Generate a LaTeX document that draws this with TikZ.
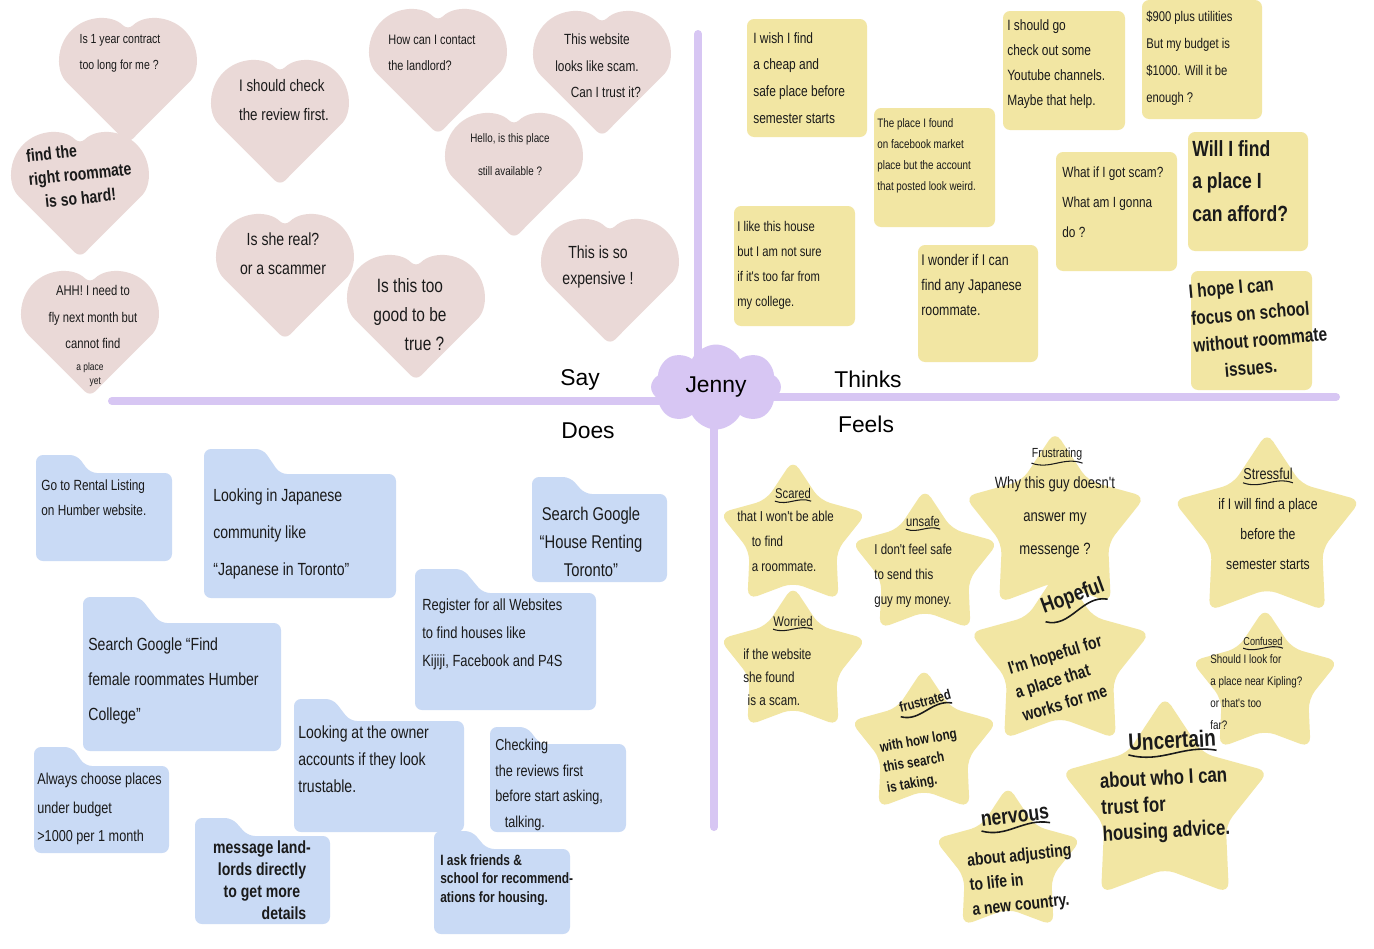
\documentclass[tikz,border=0pt]{standalone}
\usepackage{fontspec}
\setmainfont{Liberation Sans}
\newfontfamily\handfont[FakeStretch=0.8]{Liberation Sans}
\usepackage{xcolor}
\usetikzlibrary{shapes.geometric,shapes.symbols}

\definecolor{heartpink}{HTML}{EAD9D7}
\definecolor{thinkyellow}{HTML}{F2E6A3}
\definecolor{doesblue}{HTML}{C9DAF5}
\definecolor{hublilac}{HTML}{D7C6F3}
\definecolor{ink}{HTML}{1A1A1A}

\newcommand{\handtext}[2]{\handfont\fontsize{#1}{#2}\selectfont}
\newcommand{\markertext}[2]{\handfont\bfseries\fontsize{#1}{#2}\selectfont}

\begin{document}
\begin{tikzpicture}[
  x=0.02cm, y=0.02cm,
  quadline/.style={line width=0.16cm, hublilac, line cap=round},
  hub/.style={cloud, cloud puffs=8, cloud puff arc=125, cloud ignores aspect, fill=hublilac,
              minimum width=2.6cm, minimum height=1.7cm, inner sep=0pt,
              font=\fontsize{13}{15}\selectfont},
  quad/.style={font=\fontsize{13}{15}\selectfont},
  heart/.pic={\fill[heartpink, rounded corners=4pt] (-56.6,-5.9)
              arc[start angle=225, end angle=45, radius=40]
              arc[start angle=135, end angle=-45, radius=40] -- (0,-62.5) -- cycle;},
  sticky/.style={fill=thinkyellow, rounded corners=4pt},
  folder/.style={fill=doesblue, rounded corners=4pt},
  feelstar/.style={star, star points=5, star point ratio=1.7, fill=thinkyellow,
                   rounded corners=6pt, inner sep=0pt},
  txt/.style={align=left, inner sep=0pt, text=ink},
  ttl/.style={inner sep=0pt, text=ink},
  squig/.style={ink, line width=0.6pt}
]
\fill[white] (0,0) rectangle (1374,-944);

% Quadrant lines and persona
\coordinate (hubc)     at (716,-383);
\coordinate (sayend)   at (112,-397);
\coordinate (thinkend) at (1336,-393);
\coordinate (topend)   at (698,-30);
\coordinate (botend)   at (714,-823);
\draw[quadline] (sayend) -- (sayend -| hubc);
\draw[quadline] (thinkend) -- (thinkend -| hubc);
\draw[quadline] (topend) -- (topend |- hubc);
\draw[quadline] (botend) -- (botend |- hubc);
\node[hub] (jenny) at (hubc) {Jenny};

\node[quad] (say)    at (580,-376) {Say};
\node[quad] (thinks) at (868,-375) {Thinks};
\node[quad] (does)   at (588,-427) {Does};
\node[quad] (feels)  at (866,-420) {Feels};

% Say: hearts
\pic at (128,-77)  {heart};
\pic at (280,-119) {heart};
\pic at (438,-68)  {heart};
\pic at (602,-70)  {heart};
\pic at (80,-191)  {heart};
\pic at (514,-172) {heart};
\pic at (285,-273) {heart};
\pic at (416,-314) {heart};
\pic at (610,-278) {heart};
\pic at (90,-330)  {heart};

\node[txt, font=\handtext{7.5}{14.7}] (h1) at (120,-49) {Is 1 year contract\\too long for me ?};
\node[txt, font=\handtext{9.5}{16}] (h2) at (284,-96) {I should check\\the review first.};
\node[txt, anchor=west, font=\handtext{7.8}{14.7}] (h3) at (388,-49) {How can I contact\\the landlord?};
\node[txt, align=center, font=\handtext{8.4}{15}] (h4) at (597,-62) {This website\\looks like scam.\\\hspace*{1.2em}Can I trust it?};
\node[txt, rotate=6, font=\markertext{10}{13.5}] (h5) at (80,-170) {find the\\right roommate\\\hspace*{0.8em}is so hard!};
\node[txt, align=center, font=\handtext{7}{18.7}] (h6) at (510,-151) {Hello, is this place\\still available ?};
\node[txt, align=center, font=\handtext{10}{16.4}] (h7) at (283,-250) {Is she real?\\or a scammer};
\node[txt, align=center, font=\handtext{11}{16.5}] (h8) at (410,-311) {Is this too\\good to be\\\hspace*{1.5em}true ?};
\node[txt, align=center, font=\handtext{10}{15.3}] (h9) at (598,-263) {This is so\\expensive !};
\node[txt, align=center, font=\handtext{8}{15}] (h10) at (93,-313) {AHH! I need to\\fly next month but\\cannot find};
\node[txt, align=center, font=\handtext{6}{8}] (h10b) at (90,-371) {a place\\\hspace*{1em}yet};

% Thinks: sticky notes
\fill[sticky] (747,-15) rectangle (867,-133);
\fill[sticky] (874,-104) rectangle (995,-223);
\fill[sticky] (734,-202) rectangle (855,-322);
\fill[sticky] (918,-241) rectangle (1038,-358);
\fill[sticky] (1003,-7) rectangle (1125,-126);
\fill[sticky] (1142,4) rectangle (1262,-115);
\fill[sticky] (1056,-148) rectangle (1177,-267);
\fill[sticky] (1188,-128) rectangle (1308,-247);
\fill[sticky] (1191,-267) rectangle (1312,-386);

\node[txt, anchor=west, font=\handtext{8.5}{15.3}] (t1) at (753,-74) {I wish I find\\a cheap and\\safe place before\\semester starts};
\node[txt, anchor=west, font=\handtext{7}{12}] (t2) at (877,-152) {The place I found\\on facebook market\\place but the account\\that posted look weird.};
\node[txt, anchor=west, font=\handtext{8}{14.2}] (t3) at (737,-261) {I like this house\\but I am not sure\\if it's too far from\\my college.};
\node[txt, anchor=west, font=\handtext{8.8}{14.2}] (t4) at (921,-281) {I wonder if I can\\find any Japanese\\roommate.};
\node[txt, anchor=west, font=\handtext{8.5}{14.2}] (t5) at (1007,-60) {I should go\\check out some\\Youtube channels.\\Maybe that help.};
\node[txt, anchor=west, font=\handtext{8}{15.3}] (t6) at (1146,-54) {\$900 plus utilities\\But my budget is\\\$1000. Will it be\\enough ?};
\node[txt, anchor=west, font=\handtext{8.4}{17}] (t7) at (1062,-198) {What if I got scam?\\What am I gonna\\do ?};
\node[txt, anchor=west, font=\markertext{12.5}{18.7}] (t8) at (1192,-177) {Will I find\\a place I\\can afford?};
\node[txt, anchor=west, rotate=5, font=\markertext{11}{15.5}] (t9) at (1192,-328) {I hope I can\\focus on school\\without roommate\\\hspace*{1.5em}issues.};

% Does: folders
\fill[folder] (36,-469)  |- ++(41,18) -- ++(13,-18) -| (172,-557) -- (36,-557) -- cycle;
\fill[folder] (204,-470) |- ++(59,25) -- ++(17,-25) -| (396,-594) -- (204,-594) -- cycle;
\fill[folder] (83,-619)  |- ++(57,26) -- ++(20,-26) -| (281,-747) -- (83,-747) -- cycle;
\fill[folder] (34,-762)  |- ++(38,19) -- ++(13,-19) -| (169,-849) -- (34,-849) -- cycle;
\fill[folder] (195,-832) |- ++(37,18) -- ++(16,-18) -| (330,-920) -- (195,-920) -- cycle;
\fill[folder] (294,-717) |- ++(39,22) -- ++(17,-22) -| (464,-828) -- (294,-828) -- cycle;
\fill[folder] (532,-490) |- ++(38,17) -- ++(15,-17) -| (667,-578) -- (532,-578) -- cycle;
\fill[folder] (415,-589) |- ++(48,24) -- ++(20,-24) -| (596,-706) -- (415,-706) -- cycle;
\fill[folder] (490,-740) |- ++(37,17) -- ++(13,-17) -| (626,-828) -- (490,-828) -- cycle;
\fill[folder] (434,-845) |- ++(38,18) -- ++(15,-18) -| (570,-930) -- (434,-930) -- cycle;

\node[txt, anchor=west, font=\handtext{8.4}{14.2}] (d1) at (41,-494) {Go to Rental Listing\\on Humber website.};
\node[txt, anchor=west, font=\handtext{10}{21}] (d2) at (213,-530) {Looking in Japanese\\community like\\“Japanese in Toronto”};
\node[txt, anchor=west, font=\handtext{10}{20}] (d3) at (88,-677) {Search Google “Find\\female roommates Humber\\College”};
\node[txt, anchor=west, font=\handtext{9}{16}] (d4) at (37,-805) {Always choose places\\under budget\\>1000 per 1 month};
\node[txt, align=center, font=\markertext{10}{12.5}] (d5) at (262,-876) {message land-\\lords directly\\to get more\\\hspace*{2.5em}details};
\node[txt, anchor=west, font=\handtext{10}{15.3}] (d6) at (298,-755) {Looking at the owner\\accounts if they look\\trustable.};
\node[txt, align=center, font=\handtext{10.5}{16}] (d7) at (591,-538) {Search Google\\“House Renting\\Toronto”};
\node[txt, anchor=west, font=\handtext{9.2}{15.9}] (d8) at (422,-630) {Register for all Websites\\to find houses like\\Kijiji, Facebook and P4S};
\node[txt, anchor=west, font=\handtext{9}{14.5}] (d9) at (495,-781) {Checking\\the reviews first\\before start asking,\\\hspace*{0.6em}talking.};
\node[txt, anchor=west, font=\markertext{8.5}{10.5}] (d10) at (440,-876) {I ask friends \&\\school for recommend-\\ations for housing.};

% Feels: stars
\node[feelstar, minimum size=3.1cm]  (s1)  at (793,-533)  {};
\node[feelstar, minimum size=3.1cm]  (s2)  at (925,-562)  {};
\node[feelstar, minimum size=3.1cm]  (s3)  at (793,-659)  {};
\node[feelstar, minimum size=3.8cm]  (s4)  at (1055,-522) {};
\node[feelstar, minimum size=3.95cm] (s5)  at (1267,-527) {};
\node[feelstar, minimum size=3.8cm]  (s6)  at (1060,-658) {};
\node[feelstar, minimum size=3.1cm]  (s7)  at (1265,-681) {};
\node[feelstar, minimum size=3.1cm]  (s8)  at (924,-741)  {};
\node[feelstar, minimum size=3.1cm]  (s9)  at (1008,-859) {};
\node[feelstar, minimum size=4.35cm] (s10) at (1165,-801) {};

\node[ttl, font=\handtext{8}{9}] (s1ttl) at (793,-489) {Scared};
\node[txt, anchor=west, font=\handtext{8.2}{14.2}] (s1txt) at (737,-537) {that I won't be able\\\hspace*{1em}to find\\\hspace*{1em}a roommate.};
\node[ttl, font=\handtext{8}{9}] (s2ttl) at (923,-517) {unsafe};
\node[txt, anchor=west, font=\handtext{8.2}{14.2}] (s2txt) at (874,-572) {I don't feel safe\\to send this\\guy my money.};
\node[ttl, font=\handtext{8}{9}] (s3ttl) at (793,-617) {Worried};
\node[txt, anchor=west, font=\handtext{8.3}{13}] (s3txt) at (743,-673) {if the website\\she found\\\hspace*{0.3em}is a scam.};
\node[ttl, font=\handtext{7.5}{9}] (s4ttl) at (1057,-450) {Frustrating};
\node[txt, align=center, font=\handtext{9.3}{18.7}] (s4txt) at (1055,-513) {Why this guy doesn't\\answer my\\messenge ?};
\node[ttl, font=\handtext{9}{10}] (s5ttl) at (1268,-470) {Stressful};
\node[txt, align=center, font=\handtext{8.7}{17}] (s5txt) at (1268,-530) {if I will find a place\\before the\\semester starts};
\node[ttl, rotate=20, font=\markertext{12.5}{14}] (s6ttl) at (1073,-593) {Hopeful};
\node[txt, rotate=17, font=\markertext{10}{14}] (s6txt) at (1062,-674) {I'm hopeful for\\a place that\\works for me};
\node[ttl, font=\handtext{6.5}{7}] (s7ttl) at (1263,-637) {Confused};
\node[txt, anchor=west, font=\handtext{7}{12.5}] (s7txt) at (1210,-688) {Should I look for\\a place near Kipling?\\or that's too\\far?};
\node[ttl, rotate=15, font=\markertext{8}{9}] (s8ttl) at (925,-697) {frustrated};
\node[txt, rotate=10, font=\markertext{8.3}{11.8}] (s8txt) at (922,-758) {with how long\\this search\\is taking.};
\node[ttl, rotate=7, font=\markertext{12.5}{14}] (s9ttl) at (1015,-813) {nervous};
\node[txt, rotate=6, font=\markertext{10}{14}] (s9txt) at (1022,-877) {about adjusting\\to life in\\a new country.};
\node[ttl, rotate=3, font=\markertext{13.5}{15}] (s10ttl) at (1172,-736) {Uncertain};
\node[txt, rotate=3, font=\markertext{12}{15}] (s10txt) at (1165,-802) {about who I can\\trust for\\housing advice.};

% underlines of the feelings
\foreach \t in {s1ttl,s2ttl,s3ttl,s4ttl,s5ttl,s7ttl}
  \draw[squig] ([yshift=-1.5pt]\t.south west) to[out=-20,in=160] ([yshift=-1.5pt]\t.south east);
\foreach \t in {s6ttl,s8ttl,s9ttl,s10ttl}
  \draw[squig, line width=0.9pt] ([yshift=-2pt]\t.south west) to[out=-15,in=170] ([yshift=-2pt]\t.south east);
\end{tikzpicture}
\end{document}
